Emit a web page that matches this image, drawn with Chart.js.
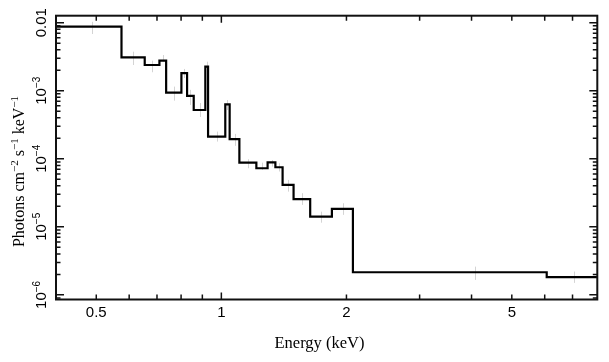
<!DOCTYPE html>
<html><head><meta charset="utf-8">
<script src="https://cdn.jsdelivr.net/npm/chart.js@4.4.0/dist/chart.umd.min.js"></script>
<style>html,body{margin:0;padding:0;background:#fff}#wrap{width:609px;height:362px}</style>
</head><body><div id="wrap"><canvas id="c" width="609" height="362"></canvas></div>
<script>
// Bin edges (keV) and model values (photons cm^-2 s^-1 keV^-1)
const binEdges = [0.4,0.575,0.654,0.7095,0.7364,0.8014,0.827,0.858,0.915,0.929,1.022,1.047,1.105,1.214,1.292,1.349,1.404,1.492,1.636,1.845,2.073,6.067,8.03];
const binValues = [8.73e-3,3.1e-3,2.39e-3,2.77e-3,9.37e-4,1.81e-3,8.38e-4,5.21e-4,2.26e-3,2.11e-4,6.32e-4,1.95e-4,8.77e-5,7.26e-5,8.88e-5,7.51e-5,4.13e-5,2.55e-5,1.41e-5,1.83e-5,2.15e-6,1.82e-6];
// faint data error bars (upper / lower)
const errHigh = [1.03e-2,3.75e-3,2.77e-3,3.35e-3,1.15e-3,2.09e-3,1.03e-3,6.6e-4,2.67e-3,2.51e-4,7.3e-4,2.32e-4,9.84e-5,8.77e-5,9.6e-5,8.6e-5,4.89e-5,3.12e-5,1.67e-5,2.22e-5,2.6e-6,2.2e-6];
const errLow = [6.82e-3,2.39e-3,1.87e-3,2.67e-3,7.15e-4,1.54e-3,6.18e-4,4.12e-4,1.89e-3,1.79e-4,5.2e-4,1.55e-4,7.26e-5,6.85e-5,7.68e-5,6.5e-5,3.29e-5,2.1e-5,1.15e-5,1.5e-5,1.66e-6,1.5e-6];
const xTickLabels = [0.5, 1, 2, 5];
const xTickMarks = [0.5,0.6,0.7,0.8,0.9,1,2,3,4,5,6,7];
const yDecades = [1e-6, 1e-5, 1e-4, 1e-3, 1e-2];
const yDecadeLabels = [["10","−6"],["10","−5"],["10","−4"],["10","−3"],["0.01",""]];
const xTitle = "Energy (keV)";
const yTitleParts = [["Photons cm",false],["−2",true],[" s",false],["−1",true],[" keV",false],["−1",true]];

const stepPoints = binValues.map((v,i)=>({x:binEdges[i], y:v}));
stepPoints.push({x:binEdges[binEdges.length-1], y:binValues[binValues.length-1]});

const SERIF = '"Liberation Serif", "DejaVu Serif", serif';
const SANS = '"Liberation Sans", Arial, sans-serif';

function drawParts(ctx, parts, size, supSize, supRaise){
  let total = 0;
  const widths = parts.map(([t,sup])=>{ctx.font = (sup?supSize:size)+'px '+(ctx._fam); const w = ctx.measureText(t).width; total+=w; return w;});
  let x = -total/2;
  parts.forEach(([t,sup],i)=>{
    ctx.font = (sup?supSize:size)+'px '+(ctx._fam);
    ctx.fillText(t, x, sup?-supRaise:0);
    x += widths[i];
  });
}

const decor = {
  id:'decor',
  beforeDatasetsDraw(chart){
    const {ctx, chartArea:a, scales:{x,y}} = chart;
    ctx.save();
    ctx.beginPath(); ctx.rect(a.left,a.top,a.right-a.left,a.bottom-a.top); ctx.clip();
    ctx.strokeStyle = '#d4d4d4'; ctx.lineWidth = 1;
    binValues.forEach((v,i)=>{
      const xc = x.getPixelForValue((binEdges[i]+binEdges[i+1])/2);
      const px = Math.round(xc)+0.5;
      ctx.beginPath();
      ctx.moveTo(px, y.getPixelForValue(errHigh[i]));
      ctx.lineTo(px, y.getPixelForValue(errLow[i]));
      ctx.stroke();
    });
    ctx.restore();
  },
  afterDatasetsDraw(chart){
    const {ctx, chartArea:a, scales:{x,y}} = chart;
    ctx.save();
    ctx.strokeStyle = '#111'; ctx.lineWidth = 2;
    ctx.strokeRect(a.left, a.top, a.right-a.left, a.bottom-a.top);
    ctx.lineWidth = 1.5;
    ctx.beginPath();
    xTickMarks.forEach(v=>{
      const px = x.getPixelForValue(v);
      const len = (v===1)?7:5;
      ctx.moveTo(px, a.bottom); ctx.lineTo(px, a.bottom-len);
      ctx.moveTo(px, a.top); ctx.lineTo(px, a.top+len);
    });
    for (let e=-7; e<=-2; e++){
      for (let m=1; m<=9; m++){
        const v = m*Math.pow(10,e);
        if (v < y.min || v > y.max) continue;
        const py = y.getPixelForValue(v);
        const len = (m===1)?8:4.5;
        ctx.moveTo(a.left, py); ctx.lineTo(a.left+len, py);
        ctx.moveTo(a.right, py); ctx.lineTo(a.right-len, py);
      }
    }
    ctx.stroke();
    ctx.restore();
  },
  afterDraw(chart){
    const {ctx, chartArea:a, scales:{x,y}} = chart;
    ctx.save();
    ctx.fillStyle = '#000';
    ctx.textBaseline = 'alphabetic'; ctx.textAlign = 'left';
    ctx._fam = SANS;
    yDecades.forEach((v,i)=>{
      const py = y.getPixelForValue(v);
      ctx.save();
      ctx.translate(45.5, py);
      ctx.rotate(-Math.PI/2);
      const [main,sup] = yDecadeLabels[i];
      const parts = sup ? [[main,false],[sup,true]] : [[main,false]];
      drawParts(ctx, parts, 15, 10, 6);
      ctx.restore();
    });
    ctx._fam = SERIF;
    ctx.save();
    ctx.translate(23.5, 171.5);
    ctx.rotate(-Math.PI/2);
    drawParts(ctx, yTitleParts, 16, 11, 6);
    ctx.restore();
    ctx.font = '16.5px '+SERIF;
    ctx.textAlign = 'center';
    ctx.fillText(xTitle, 319.5, 347.7);
    ctx.restore();
  }
};

new Chart(document.getElementById('c'), {
  type:'line',
  data:{datasets:[{data:stepPoints, stepped:'before', borderColor:'#000', borderWidth:2.2, pointRadius:0, fill:false, borderJoinStyle:'miter', borderCapStyle:'butt'}]},
  options:{
    responsive:false, animation:false, devicePixelRatio:1,
    layout:{padding:{left:0, right:11.7, top:15.7, bottom:0}},
    plugins:{legend:{display:false}, tooltip:{enabled:false}},
    scales:{
      x:{type:'logarithmic', min:0.4, max:8.03,
         grid:{display:false, drawTicks:false}, border:{display:false},
         afterBuildTicks:s=>{ s.ticks = xTickLabels.map(v=>({value:v})); },
         ticks:{callback:v=>String(v), font:{family:SANS, size:15}, color:'#000', padding:4, maxRotation:0, minRotation:0, autoSkip:false},
         afterFit:s=>{ s.height = 62.5; }},
      y:{type:'logarithmic', min:8.55e-7, max:0.01267,
         grid:{display:false, drawTicks:false}, border:{display:false},
         ticks:{display:false},
         afterFit:s=>{ s.width = 56; }}
    }
  },
  plugins:[decor]
});
</script></body></html>
